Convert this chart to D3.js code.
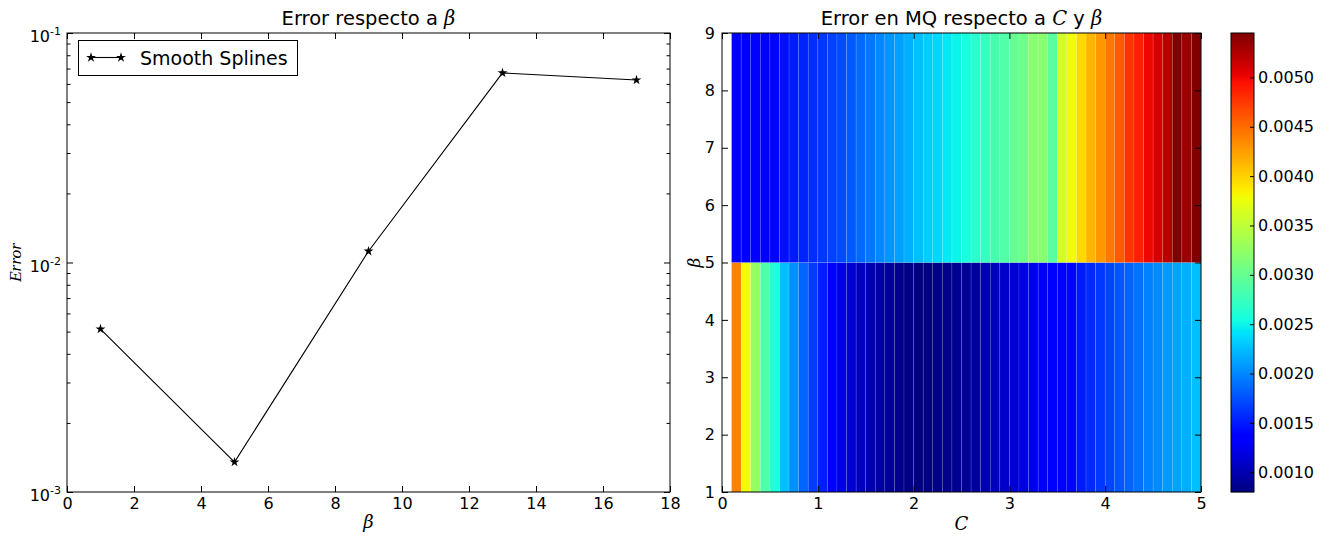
<!DOCTYPE html>
<html>
<head>
<meta charset="utf-8">
<script src="https://cdn.jsdelivr.net/npm/d3@7"></script>
<style>
  body { margin: 0; background: #fff; }
  svg { display: block; font-family: "DejaVu Sans", sans-serif; }
</style>
</head>
<body>
<div id="chart"></div>
<script>
// ---- data ----
// left panel: error vs beta (log scale)
const betaVals = [1, 5, 9, 13, 17];
const errorVals = [0.00513, 0.00135, 0.0112, 0.0670, 0.0624];
const logTicks = [1e-3, 1e-2, 1e-1];
const logTickLabels = [["10", "-3"], ["10", "-2"], ["10", "-1"]];
const betaTicks = [0, 2, 4, 6, 8, 10, 12, 14, 16, 18];

// right panel: pcolor grid, C edges and beta edges
const cEdges = [0.1, 0.2, 0.3, 0.4, 0.5, 0.6, 0.7, 0.8, 0.9, 1.0,
    1.1, 1.2, 1.3, 1.4, 1.5, 1.6, 1.7, 1.8, 1.9, 2.0,
    2.1, 2.2, 2.3, 2.4, 2.5, 2.6, 2.7, 2.8, 2.9, 3.0,
    3.1, 3.2, 3.3, 3.4, 3.5, 3.6, 3.7, 3.8, 3.9, 4.0,
    4.1, 4.2, 4.3, 4.4, 4.5, 4.6, 4.7, 4.8, 4.9, 5.0];
const betaEdges = [1, 5, 9];
// row beta 1-5
const errLow = [0.00439, 0.00379, 0.00327, 0.00288, 0.00260, 0.00225, 0.00204, 0.00184, 0.00166, 0.00152,
    0.00136, 0.00121, 0.00113, 0.00105, 0.00099, 0.00093, 0.00089, 0.00085, 0.00082, 0.00080,
    0.00081, 0.00083, 0.00085, 0.00087, 0.00089, 0.00093, 0.00099, 0.00105, 0.00109, 0.00113,
    0.00119, 0.00125, 0.00129, 0.00135, 0.00137, 0.00140, 0.00150, 0.00157, 0.00163, 0.00170,
    0.00177, 0.00184, 0.00190, 0.00197, 0.00202, 0.00209, 0.00213, 0.00218, 0.00225];
// row beta 5-9
const errHigh = [0.00135, 0.00135, 0.00136, 0.00138, 0.00140, 0.00145, 0.00150, 0.00154, 0.00159, 0.00163,
    0.00168, 0.00172, 0.00179, 0.00186, 0.00193, 0.00200, 0.00206, 0.00211, 0.00218, 0.00225,
    0.00232, 0.00236, 0.00244, 0.00250, 0.00257, 0.00266, 0.00274, 0.00282, 0.00288, 0.00299,
    0.00305, 0.00319, 0.00319, 0.00293, 0.00361, 0.00379, 0.00397, 0.00414, 0.00429, 0.00444,
    0.00459, 0.00478, 0.00488, 0.00500, 0.00510, 0.00522, 0.00545, 0.00534, 0.00545];
const cTicks = [0, 1, 2, 3, 4, 5];
const betaTicksR = [1, 2, 3, 4, 5, 6, 7, 8, 9];
const cbarTicks = [0.0010, 0.0015, 0.0020, 0.0025, 0.0030, 0.0035, 0.0040, 0.0045, 0.0050];

// ---- jet colormap (matplotlib segment data) ----
function seg(t, pts) {
    for (let i = 1; i < pts.length; i++) {
        if (t <= pts[i][0]) {
            const a = pts[i - 1], b = pts[i];
            return a[1] + (b[1] - a[1]) * (t - a[0]) / (b[0] - a[0]);
        }
    }
    return pts[pts.length - 1][1];
}
function jet(t) {
    t = Math.max(0, Math.min(1, t));
    const r = seg(t, [[0, 0], [0.35, 0], [0.66, 1], [0.89, 1], [1, 0.5]]);
    const g = seg(t, [[0, 0], [0.125, 0], [0.375, 1], [0.64, 1], [0.91, 0], [1, 0]]);
    const b = seg(t, [[0, 0.5], [0.11, 1], [0.34, 1], [0.65, 0], [1, 0]]);
    return d3.rgb(r * 255, g * 255, b * 255).toString();
}

const W = 1326, H = 536;
const svg = d3.select("#chart").append("svg")
    .attr("width", W).attr("height", H);
svg.append("rect").attr("width", W).attr("height", H).attr("fill", "#fff");

const tickFont = 16;
const titleFont = 19.5;

// ================= left panel =================
const L = { left: 67, right: 670, top: 33, bottom: 492 };
const x1 = d3.scaleLinear().domain([0, 18]).range([L.left, L.right]);
const y1 = d3.scaleLog().domain([1e-3, 1e-1]).range([L.bottom, L.top]);

const minorVals = [];
[1e-3, 1e-2].forEach(dec => { for (let k = 2; k <= 9; k++) minorVals.push(dec * k); });

const gL = svg.append("g");

// x ticks bottom (inward) with labels
gL.append("g")
    .attr("transform", "translate(0," + L.bottom + ")")
    .call(d3.axisBottom(x1).tickValues(betaTicks).tickSize(-6).tickPadding(6).tickFormat(d3.format("d")))
    .call(g => g.select(".domain").remove())
    .call(g => g.selectAll("text").attr("font-size", tickFont).attr("fill", "#000")
        .attr("font-family", "DejaVu Sans"));
// x ticks top
gL.append("g")
    .attr("transform", "translate(0," + L.top + ")")
    .call(d3.axisTop(x1).tickValues(betaTicks).tickSize(-6).tickFormat(""))
    .call(g => g.select(".domain").remove());

// y major / minor ticks, left and right
[[L.left, d3.axisLeft], [L.right, d3.axisRight]].forEach(([px, ax]) => {
    gL.append("g").attr("transform", "translate(" + px + ",0)")
        .call(ax(y1).tickValues(logTicks).tickSize(-6).tickFormat(""))
        .call(g => g.select(".domain").remove());
    gL.append("g").attr("transform", "translate(" + px + ",0)")
        .call(ax(y1).tickValues(minorVals).tickSize(-3.5).tickFormat(""))
        .call(g => g.select(".domain").remove());
});

// log tick labels with superscripts
logTicks.forEach((v, i) => {
    const t = gL.append("text")
        .attr("x", L.left - 6)
        .attr("y", y1(v) + 9)
        .attr("text-anchor", "end")
        .attr("font-size", tickFont);
    t.append("tspan").text(logTickLabels[i][0]);
    t.append("tspan").attr("font-size", 11).attr("dy", -7).text(logTickLabels[i][1]);
});

// frame
gL.append("rect")
    .attr("x", L.left).attr("y", L.top)
    .attr("width", L.right - L.left).attr("height", L.bottom - L.top)
    .attr("fill", "none").attr("stroke", "#000").attr("stroke-width", 1);

// line + star markers
const lineGen = d3.line().x((d, i) => x1(betaVals[i])).y(d => y1(d));
gL.append("path").datum(errorVals)
    .attr("fill", "none").attr("stroke", "#000").attr("stroke-width", 1.1)
    .attr("d", lineGen);
const star = d3.symbol().type(d3.symbolStar).size(30);
gL.selectAll(".pt").data(errorVals).enter().append("path")
    .attr("transform", (d, i) => "translate(" + x1(betaVals[i]) + "," + y1(d) + ")")
    .attr("d", star).attr("fill", "#000");

// legend
gL.append("rect").attr("x", 78.5).attr("y", 40.5).attr("width", 219).attr("height", 35)
    .attr("fill", "#fff").attr("stroke", "#000").attr("stroke-width", 1);
gL.append("line").attr("x1", 91).attr("x2", 121).attr("y1", 57.5).attr("y2", 57.5)
    .attr("stroke", "#000").attr("stroke-width", 1.1);
[91, 121].forEach(px => gL.append("path")
    .attr("transform", "translate(" + px + ",57.5)").attr("d", star).attr("fill", "#000"));
gL.append("text").attr("x", 140).attr("y", 64.5).attr("font-size", 19).text("Smooth Splines");

// title and labels
const titleL = gL.append("text").attr("x", (L.left + L.right) / 2).attr("y", 25)
    .attr("text-anchor", "middle").attr("font-size", titleFont);
titleL.append("tspan").text("Error respecto a ");
titleL.append("tspan").attr("font-family", "DejaVu Serif").attr("font-style", "italic").text("β");

gL.append("text").attr("x", (L.left + L.right) / 2).attr("y", 528)
    .attr("text-anchor", "middle").attr("font-size", 18)
    .attr("font-family", "DejaVu Serif").attr("font-style", "italic").text("β");
gL.append("text")
    .attr("transform", "translate(21," + ((L.top + L.bottom) / 2) + ") rotate(-90)")
    .attr("text-anchor", "middle").attr("font-size", 17.5)
    .attr("font-family", "Liberation Serif").attr("font-style", "italic").text("Error");

// ================= right panel =================
const R = { left: 722, right: 1201, top: 33, bottom: 492 };
const x2 = d3.scaleLinear().domain([0, 5]).range([R.left, R.right]);
const y2 = d3.scaleLinear().domain([1, 9]).range([R.bottom, R.top]);
const allVals = errLow.concat(errHigh);
const vmin = d3.min(allVals), vmax = d3.max(allVals);
const cnorm = d3.scaleLinear().domain([vmin, vmax]).range([0, 1]);

const gR = svg.append("g");
[errLow, errHigh].forEach((row, r) => {
    gR.append("g").selectAll("rect").data(row).enter().append("rect")
        .attr("x", (d, i) => x2(cEdges[i]))
        .attr("width", (d, i) => x2(cEdges[i + 1]) - x2(cEdges[i]))
        .attr("y", y2(betaEdges[r + 1]))
        .attr("height", y2(betaEdges[r]) - y2(betaEdges[r + 1]))
        .attr("fill", d => jet(cnorm(d)))
        .attr("stroke", "rgba(255,255,255,0.18)")
        .attr("stroke-width", 0.6);
});

gR.append("g")
    .attr("transform", "translate(0," + R.bottom + ")")
    .call(d3.axisBottom(x2).tickValues(cTicks).tickSize(-6).tickPadding(6).tickFormat(d3.format("d")))
    .call(g => g.select(".domain").remove())
    .call(g => g.selectAll("text").attr("font-size", tickFont).attr("fill", "#000")
        .attr("font-family", "DejaVu Sans"));
gR.append("g")
    .attr("transform", "translate(0," + R.top + ")")
    .call(d3.axisTop(x2).tickValues(cTicks).tickSize(-6).tickFormat(""))
    .call(g => g.select(".domain").remove());
gR.append("g")
    .attr("transform", "translate(" + R.left + ",0)")
    .call(d3.axisLeft(y2).tickValues(betaTicksR).tickSize(-6).tickPadding(7).tickFormat(d3.format("d")))
    .call(g => g.select(".domain").remove())
    .call(g => g.selectAll("text").attr("font-size", tickFont).attr("fill", "#000")
        .attr("font-family", "DejaVu Sans"));
gR.append("g")
    .attr("transform", "translate(" + R.right + ",0)")
    .call(d3.axisRight(y2).tickValues(betaTicksR).tickSize(-6).tickFormat(""))
    .call(g => g.select(".domain").remove());

gR.append("rect")
    .attr("x", R.left).attr("y", R.top)
    .attr("width", R.right - R.left).attr("height", R.bottom - R.top)
    .attr("fill", "none").attr("stroke", "#000").attr("stroke-width", 1);

const titleR = gR.append("text").attr("x", (R.left + R.right) / 2).attr("y", 25)
    .attr("text-anchor", "middle").attr("font-size", titleFont);
titleR.append("tspan").text("Error en MQ respecto a ");
titleR.append("tspan").attr("font-family", "DejaVu Serif").attr("font-style", "italic").text("C");
titleR.append("tspan").text(" y ");
titleR.append("tspan").attr("font-family", "DejaVu Serif").attr("font-style", "italic").text("β");

gR.append("text").attr("x", (R.left + R.right) / 2).attr("y", 530)
    .attr("text-anchor", "middle").attr("font-size", 18)
    .attr("font-family", "DejaVu Serif").attr("font-style", "italic").text("C");
gR.append("text")
    .attr("transform", "translate(700," + ((R.top + R.bottom) / 2) + ") rotate(-90)")
    .attr("text-anchor", "middle").attr("font-size", 17)
    .attr("font-family", "DejaVu Serif").attr("font-style", "italic").text("β");

// ================= colorbar =================
const CB = { left: 1231, right: 1254, top: 33, bottom: 492 };
const yc = d3.scaleLinear().domain([vmin, vmax]).range([CB.bottom, CB.top]);
const nSteps = CB.bottom - CB.top;
const gC = svg.append("g");
gC.selectAll("rect.cb").data(d3.range(nSteps)).enter().append("rect")
    .attr("x", CB.left).attr("width", CB.right - CB.left)
    .attr("y", d => CB.bottom - d - 1).attr("height", 1.2)
    .attr("fill", d => jet((d + 0.5) / nSteps));
gC.append("rect")
    .attr("x", CB.left).attr("y", CB.top)
    .attr("width", CB.right - CB.left).attr("height", CB.bottom - CB.top)
    .attr("fill", "none").attr("stroke", "#000").attr("stroke-width", 1);
gC.append("g")
    .attr("transform", "translate(" + CB.right + ",0)")
    .call(d3.axisRight(yc).tickValues(cbarTicks).tickSize(-4).tickPadding(4).tickFormat(d3.format(".4f")))
    .call(g => g.select(".domain").remove())
    .call(g => g.selectAll("text").attr("font-size", tickFont).attr("fill", "#000")
        .attr("font-family", "DejaVu Sans"));
</script>
</body>
</html>
